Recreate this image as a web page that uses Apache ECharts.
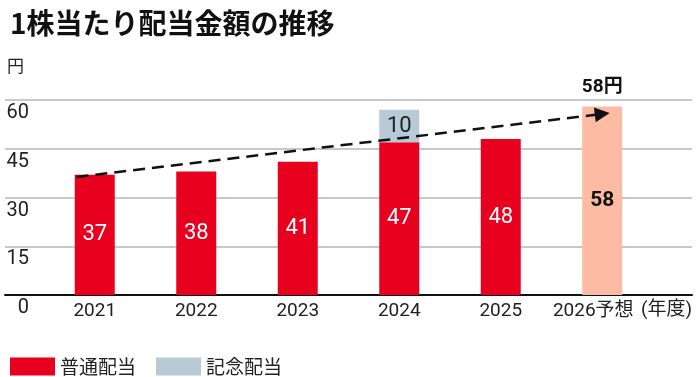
<!DOCTYPE html>
<html>
<head>
<meta charset="utf-8">
<script src="https://cdn.jsdelivr.net/npm/echarts@6/dist/echarts.min.js"></script>
<style>
  html,body{margin:0;padding:0;background:#fff;}
  #chart{width:700px;height:377px;}
</style>
</head>
<body>
<div id="chart"></div>
<script>
// data
const years = ['2021', '2022', '2023', '2024', '2025', '2026予想'];
const regular = [37, 38, 41, 47, 48, '-'];
const commemorative = ['-', '-', '-', 10, '-', '-'];
const forecast = ['-', '-', '-', '-', '-', 58];
const yTicks = [0, 15, 30, 45, 60];
// trend arrow: [category position, yen]
const trendFrom = [-0.18, 36.3];
const trendTo = [5.0, 55.7];

const RED = '#e8001f';
const GRAY = '#b8cad5';
const SALMON = '#fcbba2';
const FONT = 'Roboto, "Noto Sans CJK JP", sans-serif';

const chart = echarts.init(document.getElementById('chart'));

const option = {
    animation: false,
    textStyle: { fontFamily: FONT },
    title: {
        text: '1株当たり配当金額の推移',
        left: 5,
        top: 4,
        textStyle: { fontSize: 28, fontWeight: 'bold', color: '#111', fontFamily: '"Noto Sans CJK JP", sans-serif' }
    },
    legend: {
        left: 5,
        top: 352,
        itemWidth: 45,
        itemHeight: 18,
        itemGap: 20,
        icon: 'rect',
        data: ['普通配当', '記念配当'],
        textStyle: { fontSize: 19, color: '#222', fontFamily: '"Noto Sans CJK JP", sans-serif' }
    },
    grid: [
        { left: 5, right: 8, top: 100, bottom: 82 },
        { left: 44, right: 47, top: 100, bottom: 82 }
    ],
    xAxis: [
        {
            gridIndex: 0,
            type: 'value',
            min: 0, max: 1,
            axisLine: { show: true, onZero: false, lineStyle: { color: '#111', width: 2 } },
            axisTick: { show: false },
            axisLabel: { show: false },
            splitLine: { show: false },
            name: '(年度)',
            nameLocation: 'end',
            nameGap: 0,
            nameTextStyle: { align: 'right', verticalAlign: 'top', padding: [6, 0, 0, 0], fontSize: 19, color: '#222', fontFamily: FONT }
        },
        {
            gridIndex: 1,
            type: 'category',
            data: years,
            axisLine: { show: false },
            axisTick: { show: false },
            axisLabel: {
                interval: 0,
                margin: 7,
                fontSize: 19,
                color: '#222',
                formatter: (v, i) => i === years.length - 1 ? '{f|' + v + '}' : v,
                rich: { f: { fontSize: 19, color: '#222', padding: [0, 18, 0, 0] } }
            }
        },
        {
            gridIndex: 1,
            type: 'value',
            min: -0.5, max: 5.5,
            show: false
        }
    ],
    yAxis: [
        {
            gridIndex: 0,
            type: 'value',
            min: 0, max: 60, interval: 15,
            axisLine: { show: false },
            axisTick: { show: false },
            splitLine: { lineStyle: { color: '#c8c8c8', width: 2 } },
            axisLabel: {
                inside: true,
                margin: 24,
                align: 'right',
                verticalAlign: 'top',
                padding: [3, 0, 0, 0],
                fontSize: 20,
                color: '#222',
                formatter: v => yTicks.includes(v) ? String(v) : ''
            },
            name: '円',
            nameLocation: 'end',
            nameGap: 26,
            nameTextStyle: { align: 'left', fontSize: 17, color: '#222', padding: [0, 0, 0, 2], fontFamily: '"Noto Sans CJK JP", sans-serif' }
        },
        {
            gridIndex: 1,
            type: 'value',
            min: 0, max: 60,
            show: false
        }
    ],
    series: [
        {
            name: '普通配当',
            type: 'bar',
            xAxisIndex: 1, yAxisIndex: 1,
            stack: 'dps',
            barWidth: 40,
            data: regular,
            itemStyle: { color: RED },
            label: { show: true, position: 'inside', color: '#fff', fontSize: 22 }
        },
        {
            name: '記念配当',
            type: 'bar',
            xAxisIndex: 1, yAxisIndex: 1,
            stack: 'dps',
            barWidth: 40,
            data: commemorative,
            itemStyle: { color: GRAY },
            label: { show: true, position: 'inside', color: '#222', fontSize: 22 }
        },
        {
            name: '予想',
            type: 'bar',
            xAxisIndex: 1, yAxisIndex: 1,
            stack: 'dps',
            barWidth: 40,
            data: forecast,
            itemStyle: { color: SALMON },
            label: { show: true, position: 'inside', color: '#111', fontSize: 21, fontWeight: 'bold' },
            markPoint: {
                symbol: 'circle',
                symbolSize: 1,
                itemStyle: { color: 'rgba(0,0,0,0)' },
                label: {
                    show: true, position: 'top', distance: 9,
                    formatter: p => p.value + '円',
                    fontSize: 19, fontWeight: 'bold', color: '#111'
                },
                data: [{ coord: [years[5], forecast[5]], value: forecast[5] }]
            }
        },
        {
            name: 'trend',
            type: 'lines',
            coordinateSystem: 'cartesian2d',
            xAxisIndex: 2, yAxisIndex: 1,
            symbol: ['none', 'triangle'],
            symbolSize: 15,
            lineStyle: { color: '#111', width: 2.5, type: [12, 7], opacity: 1 },
            data: [{ coords: [trendFrom, trendTo] }],
            z: 5
        }
    ]
};

chart.setOption(option);
</script>
</body>
</html>
